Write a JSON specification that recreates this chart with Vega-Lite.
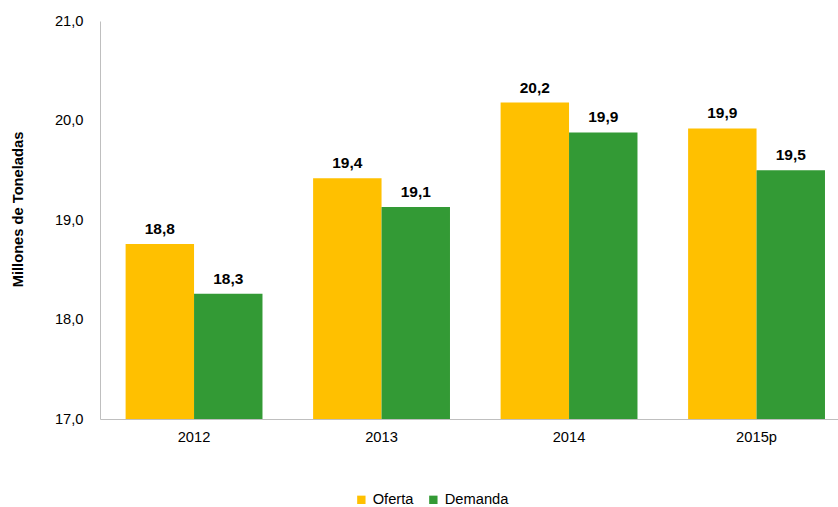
{
  "$schema": "https://vega.github.io/schema/vega-lite/v6.json",
  "autosize": {"type": "none"},
  "padding": {"left": 100, "top": 21, "right": 0, "bottom": 88},
  "width": 738,
  "height": 398,
  "background": "white",
  "config": {
    "locale": {"number": {"decimal": ",", "thousands": ".", "grouping": [3], "currency": ["", " €"]}},
    "font": "Liberation Sans",
    "view": {"stroke": null}
  },
  "data": {
    "values": [
      {"year": "2012", "serie": "Oferta", "value": 18.76},
      {"year": "2012", "serie": "Demanda", "value": 18.26},
      {"year": "2013", "serie": "Oferta", "value": 19.42},
      {"year": "2013", "serie": "Demanda", "value": 19.13},
      {"year": "2014", "serie": "Oferta", "value": 20.18},
      {"year": "2014", "serie": "Demanda", "value": 19.88},
      {"year": "2015p", "serie": "Oferta", "value": 19.92},
      {"year": "2015p", "serie": "Demanda", "value": 19.5}
    ]
  },
  "encoding": {
    "x": {
      "field": "year", "type": "nominal",
      "scale": {"paddingInner": 0.27, "paddingOuter": 0.103, "align": 0.663},
      "axis": {"title": null, "labelAngle": 0, "ticks": false, "domainColor": "#bfbfbf", "labelFontSize": 14.7, "labelColor": "#000", "labelPadding": 10}
    },
    "xOffset": {"field": "serie", "type": "nominal", "sort": ["Oferta", "Demanda"], "scale": {"paddingInner": 0, "paddingOuter": 0}},
    "y": {
      "field": "value", "type": "quantitative",
      "scale": {"domain": [17, 21], "zero": false, "nice": false},
      "axis": {"title": "Millones de Toneladas", "titleFontSize": 14.7, "titleFontWeight": "bold", "titleColor": "#000", "titleX": -82, "titleY": 188, "titleAngle": 270, "titleAlign": "center", "titleBaseline": "middle", "format": ".1f", "values": [17, 18, 19, 20, 21], "ticks": false, "grid": false, "domainColor": "#bfbfbf", "labelFontSize": 14.7, "labelColor": "#000", "labelPadding": 17}
    }
  },
  "layer": [
    {
      "mark": {"type": "bar"},
      "encoding": {
        "y2": {"datum": 17},
        "color": {
          "field": "serie", "type": "nominal", "sort": ["Oferta", "Demanda"],
          "scale": {"domain": ["Oferta", "Demanda"], "range": ["#FFC000", "#339A35"]},
          "legend": {"title": null, "orient": "none", "direction": "horizontal", "legendX": 254, "legendY": 471, "symbolType": "square", "symbolSize": 70, "symbolOpacity": 1, "labelFontSize": 14.7, "labelColor": "#000", "columnPadding": 12, "labelOffset": 4}
        }
      }
    },
    {
      "mark": {"type": "text", "baseline": "bottom", "dy": -7, "fontSize": 15.5, "fontWeight": "bold", "color": "#000"},
      "encoding": {"text": {"field": "value", "type": "quantitative", "format": ".1f"}}
    }
  ]
}
